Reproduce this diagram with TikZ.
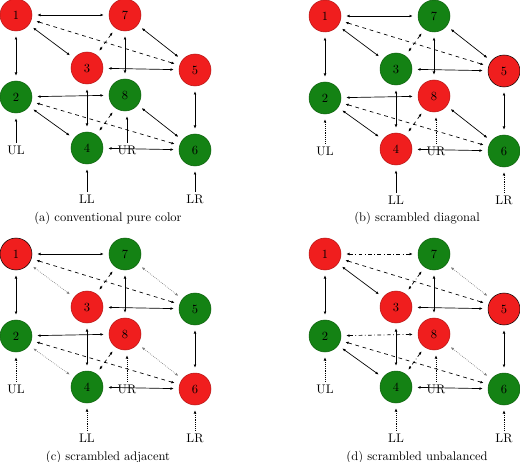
\documentclass[tikz,border=0pt]{standalone}
\usetikzlibrary{arrows.meta}
\definecolor{nodered}{RGB}{240,30,30}
\definecolor{nodegreen}{RGB}{20,130,20}

\begin{document}
\begin{tikzpicture}[x=0.8pt, y=-0.8pt,
  cell/.style={circle, minimum size=25.6pt, inner sep=0pt, font=\normalsize},
  rd/.style={cell, fill=nodered, draw=nodered!75!black},
  gn/.style={cell, fill=nodegreen, draw=nodegreen!75!black},
  rk/.style={cell, fill=nodered, draw=black},
  link/.style={{Latex[length=2.6pt,width=2.2pt]}-{Latex[length=2.6pt,width=2.2pt]}, line width=0.55pt, shorten <=4pt, shorten >=4pt},
  diag/.style={link, dashed},
  weak/.style={link, densely dotted, gray},
  mixed/.style={link, dash dot},
  feed/.style={-{Latex[length=2.6pt,width=2.2pt]}, line width=0.55pt, shorten >=4pt, shorten <=1pt},
  feedweak/.style={feed, densely dotted},
  pin/.style={font=\normalsize, inner sep=1pt}
]
  \useasboundingbox (0,0) rectangle (520,462);

  % (a) conventional pure color
  \begin{scope}[shift={(16,15)}]
    \foreach \n/\x/\y/\s in {1/0/0/rd, 7/109/0/rd, 3/71/53/rd, 5/179/55/rd,
                             2/0/82/gn, 8/109/80/gn, 4/71/133/gn, 6/179/135/gn}
      \node[\s] (a\n) at (\x,\y) {\n};
    \node[pin] (aul) at (0,135) {UL};
    \node[pin] (aur) at (111,135) {UR};
    \node[pin] (all) at (71,184) {LL};
    \node[pin] (alr) at (179,184) {LR};
    \node (acap) at (92,203) {(a) conventional pure color};
    \foreach \p/\q/\e in {1/7/link, 1/2/link, 1/3/link, 1/5/diag, 7/3/diag, 7/8/link,
                          7/5/link, 3/5/link, 3/4/link, 5/6/link, 2/8/link, 2/4/link,
                          2/6/diag, 8/4/diag, 8/6/link, 4/6/link}
      \draw[\e] (a\p) -- (a\q);
    \draw[feed] (aul) -- (a2);
    \draw[feed] (aur) -- (aur |- a8.south);
    \draw[feed] (all) -- (a4);
    \draw[feed] (alr) -- (a6);
  \end{scope}

  % (b) scrambled diagonal
  \begin{scope}[shift={(325,16)}]
    \foreach \n/\x/\y/\s in {1/0/0/rd, 7/109/0/gn, 3/71/53/gn, 5/179/55/rk,
                             2/0/82/gn, 8/109/80/rd, 4/71/133/rd, 6/179/135/gn}
      \node[\s] (b\n) at (\x,\y) {\n};
    \node[pin] (bul) at (0,135) {UL};
    \node[pin] (bur) at (111,135) {UR};
    \node[pin] (bll) at (71,184) {LL};
    \node[pin] (blr) at (179,184) {LR};
    \node (bcap) at (92,202) {(b) scrambled diagonal};
    \foreach \p/\q/\e in {1/7/link, 1/2/link, 1/3/link, 1/5/diag, 7/3/diag, 7/8/link,
                          7/5/link, 3/5/link, 3/4/link, 5/6/link, 2/8/link, 2/4/link,
                          2/6/diag, 8/4/diag, 8/6/link, 4/6/link}
      \draw[\e] (b\p) -- (b\q);
    \draw[feedweak] (bul) -- (b2);
    \draw[feedweak] (bur) -- (bur |- b8.south);
    \draw[feed] (bll) -- (b4);
    \draw[feedweak] (blr) -- (b6);
  \end{scope}

  % (c) scrambled adjacent
  \begin{scope}[shift={(16,254)}]
    \foreach \n/\x/\y/\s in {1/0/0/rk, 7/109/0/gn, 3/71/53/rd, 5/179/55/gn,
                             2/0/82/gn, 8/109/80/rd, 4/71/133/gn, 6/179/135/rd}
      \node[\s] (c\n) at (\x,\y) {\n};
    \node[pin] (cul) at (0,135) {UL};
    \node[pin] (cur) at (111,135) {UR};
    \node[pin] (cll) at (71,184) {LL};
    \node[pin] (clr) at (179,184) {LR};
    \node (ccap) at (92,203) {(c) scrambled adjacent};
    \foreach \p/\q/\e in {1/7/link, 1/2/link, 1/3/weak, 1/5/diag, 7/3/diag, 7/8/link,
                          7/5/weak, 3/5/link, 3/4/link, 5/6/link, 2/8/link, 2/4/weak,
                          2/6/diag, 8/4/diag, 8/6/weak, 4/6/link}
      \draw[\e] (c\p) -- (c\q);
    \draw[feedweak] (cul) -- (c2);
    \draw[feedweak] (cur) -- (cur |- c8.south);
    \draw[feedweak] (cll) -- (c4);
    \draw[feedweak] (clr) -- (c6);
  \end{scope}

  % (d) scrambled unbalanced
  \begin{scope}[shift={(325,254)}]
    \foreach \n/\x/\y/\s in {1/0/0/rd, 7/109/0/gn, 3/71/53/rd, 5/179/55/rk,
                             2/0/82/gn, 8/109/80/rd, 4/71/133/gn, 6/179/135/gn}
      \node[\s] (d\n) at (\x,\y) {\n};
    \node[pin] (dul) at (0,135) {UL};
    \node[pin] (dur) at (111,135) {UR};
    \node[pin] (dll) at (71,184) {LL};
    \node[pin] (dlr) at (179,184) {LR};
    \node (dcap) at (92,203) {(d) scrambled unbalanced};
    \foreach \p/\q/\e in {1/7/mixed, 1/2/link, 1/3/link, 1/5/diag, 7/3/mixed, 7/8/link,
                          7/5/weak, 3/5/link, 3/4/link, 5/6/link, 2/8/mixed, 2/4/link,
                          2/6/diag, 8/4/mixed, 8/6/weak, 4/6/link}
      \draw[\e] (d\p) -- (d\q);
    \draw[feedweak] (dul) -- (d2);
    \draw[feedweak] (dur) -- (dur |- d8.south);
    \draw[feedweak] (dll) -- (d4);
    \draw[feedweak] (dlr) -- (d6);
  \end{scope}
\end{tikzpicture}
\end{document}
